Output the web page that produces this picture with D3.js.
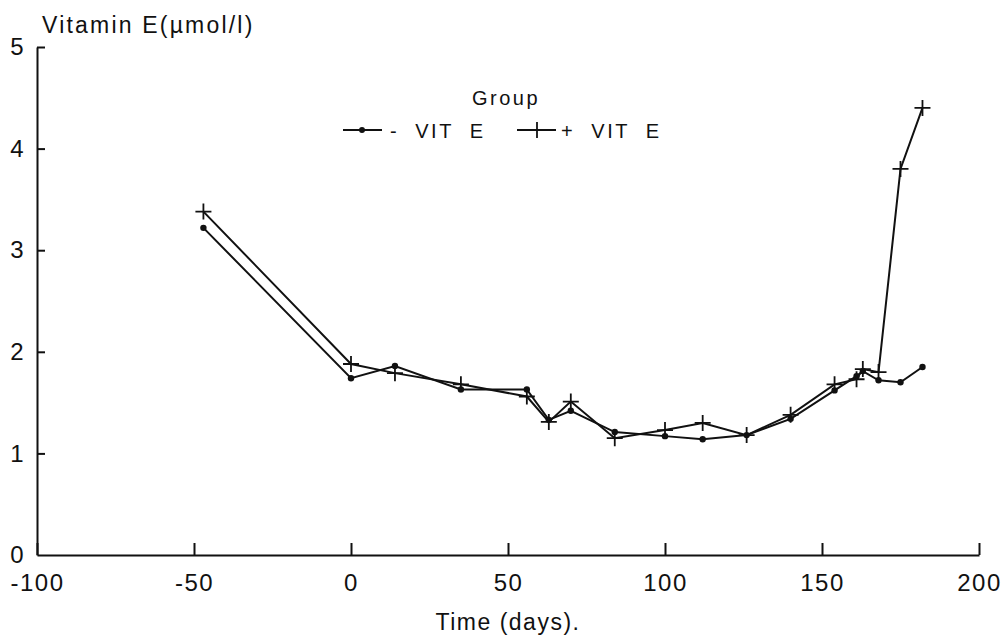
<!DOCTYPE html>
<html>
<head>
<meta charset="utf-8">
<script src="https://cdn.jsdelivr.net/npm/d3@7"></script>
<style>
  body { margin: 0; background: #fff; }
  text { font-family: "Liberation Sans", Arial, sans-serif; fill: #111; }
</style>
</head>
<body>
<div id="chart"></div>
<script>
// data
const days = [-47, 0, 14, 35, 56, 63, 70, 84, 100, 112, 126, 140, 154, 161, 163, 168, 175, 182];
const minusVitE = [3.22, 1.74, 1.86, 1.63, 1.63, 1.33, 1.42, 1.21, 1.17, 1.14, 1.18, 1.34, 1.62, 1.76, 1.81, 1.72, 1.70, 1.85];
const plusVitE = [3.38, 1.88, 1.79, 1.68, 1.56, 1.31, 1.51, 1.15, 1.23, 1.30, 1.18, 1.38, 1.68, 1.73, 1.83, 1.80, 3.80, 4.40];
const xTicks = [-100, -50, 0, 50, 100, 150, 200];
const yTicks = [0, 1, 2, 3, 4, 5];

const W = 1007, H = 638;
const svg = d3.select("#chart").append("svg")
    .attr("width", W).attr("height", H);

const x = d3.scaleLinear().domain([-100, 200]).range([37, 979]);
const y = d3.scaleLinear().domain([0, 5]).range([555, 47]);

// axes - ticks point inward, plain hyphen for negatives
const xAxis = svg.append("g")
    .attr("transform", `translate(0,${y(0)})`)
    .call(d3.axisBottom(x).tickValues(xTicks).tickSize(-12).tickSizeOuter(0).tickPadding(19)
        .tickFormat(d => String(d)));
const yAxis = svg.append("g")
    .attr("transform", `translate(${x(-100)},0)`)
    .call(d3.axisLeft(y).tickValues(yTicks).tickSize(-8).tickSizeOuter(0).tickPadding(12)
        .tickFormat(d => String(d)));

[xAxis, yAxis].forEach(g => {
    g.selectAll("path, line").attr("stroke", "#111").attr("stroke-width", 2);
    g.selectAll("text")
        .style("font-family", "'Liberation Sans', Arial, sans-serif")
        .style("font-size", "24px")
        .style("letter-spacing", "1.5px")
        .attr("fill", "#111");
});
yAxis.selectAll(".tick").filter(d => d === 0).select("line").remove();

// axis titles
svg.append("text").attr("x", 42).attr("y", 33)
    .style("font-size", "23px").style("letter-spacing", "2.2px")
    .text("Vitamin E(\u00b5mol/l)");
svg.append("text").attr("x", x(50)).attr("y", 630)
    .attr("text-anchor", "middle")
    .style("font-size", "23px").style("letter-spacing", "1.5px")
    .text("Time (days).");

// series
const line = d3.line().x(d => x(d[0])).y(d => y(d[1]));
const minusPts = days.map((d, i) => [d, minusVitE[i]]);
const plusPts = days.map((d, i) => [d, plusVitE[i]]);

svg.append("path").datum(minusPts)
    .attr("d", line).attr("fill", "none").attr("stroke", "#111").attr("stroke-width", 2);
svg.append("path").datum(plusPts)
    .attr("d", line).attr("fill", "none").attr("stroke", "#111").attr("stroke-width", 2);

svg.append("g").selectAll("circle").data(minusPts).join("circle")
    .attr("cx", d => x(d[0])).attr("cy", d => y(d[1])).attr("r", 3.2).attr("fill", "#111");

const cross = 8;
svg.append("g").selectAll("path").data(plusPts).join("path")
    .attr("d", d => {
        const cx = x(d[0]), cy = y(d[1]);
        return `M${cx - cross},${cy}H${cx + cross}M${cx},${cy - cross}V${cy + cross}`;
    })
    .attr("stroke", "#111").attr("stroke-width", 1.8).attr("fill", "none");

// legend
const leg = svg.append("g");
leg.append("text").attr("x", 506).attr("y", 105).attr("text-anchor", "middle")
    .style("font-size", "20px").style("letter-spacing", "2.5px").text("Group");

leg.append("line").attr("x1", 343).attr("x2", 382).attr("y1", 130).attr("y2", 130)
    .attr("stroke", "#111").attr("stroke-width", 2);
leg.append("circle").attr("cx", 362).attr("cy", 130).attr("r", 3).attr("fill", "#111");
leg.append("text").attr("x", 390).attr("y", 138)
    .style("font-size", "20px").style("letter-spacing", "2.5px").style("white-space", "pre")
    .text("-  VIT  E");

leg.append("line").attr("x1", 517).attr("x2", 556).attr("y1", 130).attr("y2", 130)
    .attr("stroke", "#111").attr("stroke-width", 2);
leg.append("path").attr("d", `M537,${130 - cross}V${130 + cross}`)
    .attr("stroke", "#111").attr("stroke-width", 1.8);
leg.append("text").attr("x", 561).attr("y", 138)
    .style("font-size", "20px").style("letter-spacing", "2.5px").style("white-space", "pre")
    .text("+  VIT  E");
</script>
</body>
</html>
